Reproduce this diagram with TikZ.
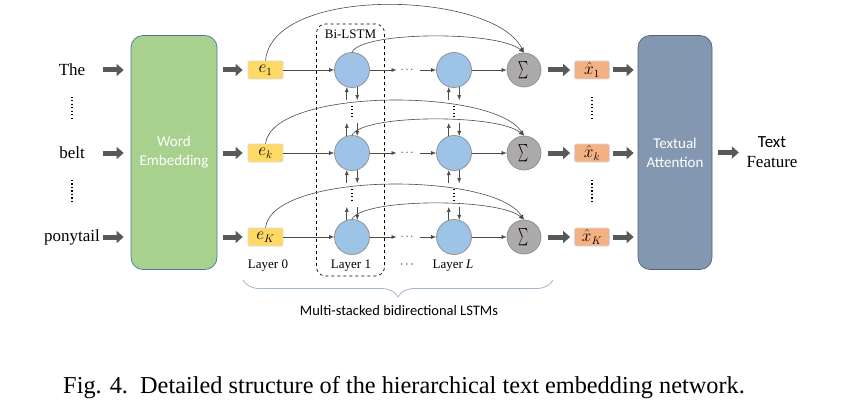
\documentclass[tikz,border=0pt]{standalone}
\usepackage{amsmath}
\usepackage{fontspec}
\usepackage{graphicx}
\setmainfont{Liberation Serif}
\newfontfamily\calibri{Carlito}
\usetikzlibrary{arrows.meta,calc,decorations.pathreplacing}

\definecolor{embgreen}{HTML}{A9D18E}
\definecolor{embline}{HTML}{4A78A8}
\definecolor{eyellow}{HTML}{FFD966}
\definecolor{xorange}{HTML}{F4B183}
\definecolor{cellblue}{HTML}{9DC3E6}
\definecolor{sumgray}{HTML}{ADAAAA}
\definecolor{attblue}{HTML}{8497B0}
\definecolor{attline}{HTML}{4E6382}
\definecolor{fatgray}{HTML}{595959}
\definecolor{bracegray}{HTML}{A3B6CC}

\tikzset{
  fatarrow/.style={draw=fatgray, line width=5pt, -{Triangle[length=7pt,width=12pt]}},
  thinarrow/.style={draw=black!70, line width=0.6pt, -{Latex[length=5pt,width=4pt]}},
  wordlabel/.style={font=\fontsize{17}{20}\selectfont, inner sep=0pt},
  bigblock/.style={draw, line width=0.7pt, rounded corners=12pt, minimum width=86pt,
    minimum height=234pt, text=white, align=center, font=\calibri\fontsize{15}{19}\selectfont},
  vecbox/.style={draw=black!15, line width=0.8pt, rounded corners=1.5pt, minimum width=35pt,
    minimum height=18pt, inner sep=0pt, font=\fontsize{16}{16}\selectfont},
  cell/.style={circle, draw=black!45, line width=0.7pt, fill=cellblue, minimum size=35pt, inner sep=0pt},
  sumcell/.style={circle, draw=black!45, line width=0.7pt, fill=sumgray, minimum size=34pt,
    inner sep=0pt, font=\fontsize{16}{16}\selectfont},
  layerlabel/.style={font=\fontsize{13}{15}\selectfont, inner sep=0pt},
  vdots/.style={line width=1.3pt, dash pattern=on 1.3pt off 2.2pt},
}

\begin{document}
\begin{tikzpicture}[x=1pt, y=-1pt]
  \useasboundingbox (0,0) rectangle (866,409);
  \fill[white] (0,0) rectangle (866,409);
  % big blocks
  \node[bigblock, draw=embline, fill=embgreen] (emb) at (174,152.5) {Word\\Embedding};
  \node[bigblock, draw=attline, fill=attblue, minimum width=74pt] (att) at (675,152.5) {Textual\\Attention};
  \node[font=\fontsize{17}{20}\selectfont, align=center, inner sep=3pt] (feat) at (772,152.5) {{\calibri Text}\\Feature};
  % dashed Bi-LSTM frame
  \node[draw, dashed, line width=0.7pt, rounded corners=9pt, minimum width=68pt, minimum height=252pt] (bilstm) at (350.5,150) {};
  \node[layerlabel, below=6pt] (bilstmlabel) at (bilstm.north) {Bi-LSTM};

  % rows
  \foreach \r/\y/\w/\i in {1/70/The/1, 2/153/belt/k, 3/237/ponytail/K}{
    \node[wordlabel] (w\r) at (72,\y) {\w};
    \node[vecbox, fill=eyellow] (e\r) at (265.5,\y) {$e_{\i}$};
    \node[cell] (a\r) at (352,\y) {};
    \node[inner xsep=4pt, inner ysep=0pt, font=\fontsize{11}{11}\selectfont] (d\r) at (408,\y) {$\cdots$};
    \node[cell] (b\r) at (454,\y) {};
    \node[sumcell] (s\r) at (524,\y) {\scalebox{0.55}[1]{$\sum$}};
    \node[vecbox, fill=xorange] (x\r) at (592,\y) {$\hat{x}_{\i}$};
    \draw[fatarrow, shorten <=31pt, shorten >=7pt] (w\r.center) -- (w\r.center -| emb.west);
    \draw[fatarrow, shorten <=6pt, shorten >=5pt] (emb.east |- e\r) -- (e\r.west);
    \draw[thinarrow] (e\r) -- (a\r);
    \draw[thinarrow] (a\r) -- (d\r);
    \draw[thinarrow] (d\r) -- (b\r);
    \draw[thinarrow] (b\r) -- (s\r);
    \draw[fatarrow, shorten <=7pt, shorten >=4pt] (s\r) -- (x\r);
    \draw[fatarrow, shorten <=3pt, shorten >=4pt] (x\r) -- (x\r -| att.west);
  }
  \draw[fatarrow, shorten <=6pt, shorten >=4.5pt] (att) -- (feat);

  % skip connections into the sums
  \foreach \r/\p/\q in {1/-76/-62, 2/-56/-48, 3/-56/-48}{
    \draw[thinarrow] (e\r.north) .. controls +(7,\p) and +(-31,\q) .. (s\r.north);
    \draw[thinarrow] (a\r.north) .. controls +(10,-21) and +(-26,-22) .. (s\r.north);
  }

  % links between stacked cells
  \foreach \c in {a,b}{
    \foreach \r/\n in {1/2, 2/3}{
      \coordinate (\c\r-bu) at ([yshift=-13pt]\c\r.-107);
      \coordinate (\c\r-bd) at ([yshift=-13pt]\c\r.-73);
      \coordinate (\c\n-tu) at ([yshift=13pt]\c\n.107);
      \coordinate (\c\n-td) at ([yshift=13pt]\c\n.73);
      \draw[thinarrow] (\c\r-bu) -- (\c\r.-107);
      \draw[thinarrow] (\c\r.-73) -- (\c\r-bd);
      \draw[thinarrow] (\c\n.107) -- (\c\n-tu);
      \draw[thinarrow] (\c\n-td) -- (\c\n.73);
      \draw[vdots] ($(\c\r)!0.43!(\c\n)$) -- ($(\c\r)!0.58!(\c\n)$);
    }
  }
  % vertical dots between words and outputs
  \foreach \r/\n in {1/2, 2/3}{
    \draw[vdots] ($(w\r)!0.32!(w\n)$) -- ($(w\r)!0.58!(w\n)$);
    \draw[vdots] ($(x\r)!0.32!(x\n)$) -- ($(x\r)!0.58!(x\n)$);
  }

  % layer labels and brace
  \node[layerlabel] (l0) at (268,266) {Layer 0};
  \node[layerlabel] (l1) at (351,266) {Layer 1};
  \node[layerlabel] (ldots) at (408,265) {$\cdots$};
  \node[layerlabel] (lL) at (453,266) {Layer \textit{L}};
  \draw[bracegray, line width=0.8pt, decorate, decoration={brace, mirror, amplitude=17pt}] (243,280) -- (553,280);
  \node[font=\calibri\fontsize{14.5}{16}\selectfont] (brlabel) at (399,311) {Multi-stacked bidirectional LSTMs};

  % caption
  \node[anchor=base, inner sep=0pt] (caption) at (404,393)
    {\fontsize{24.3}{28}\selectfont Fig. 4.\enspace Detailed structure of the hierarchical text embedding network.};
\end{tikzpicture}
\end{document}
